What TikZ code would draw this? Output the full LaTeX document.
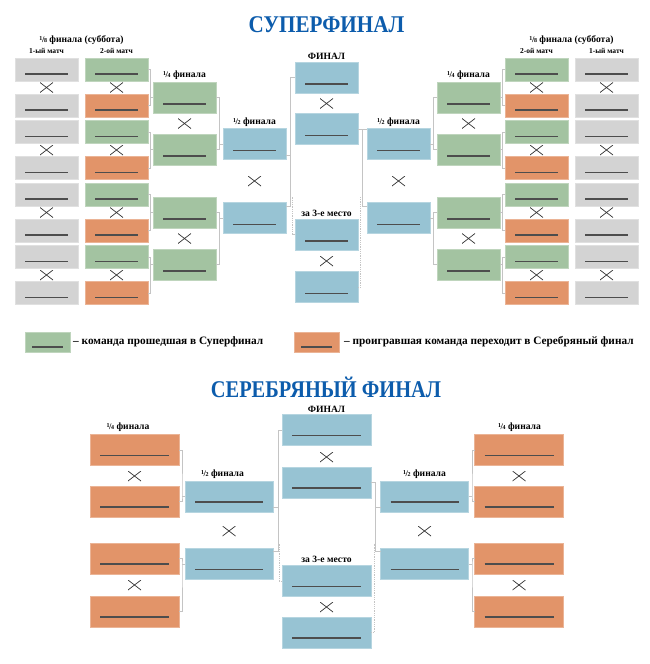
\documentclass[tikz,border=0pt]{standalone}
\usepackage{fontspec}
\setmainfont{Liberation Serif}
\usepackage{xcolor}
\usepackage{tikz}
\usetikzlibrary{positioning}

\definecolor{cGrey}{RGB}{211,211,211}
\definecolor{cGreen}{RGB}{163,195,161}
\definecolor{cOrange}{RGB}{226,148,105}
\definecolor{cBlue}{RGB}{151,195,211}
\definecolor{cLink}{RGB}{196,196,196}
\definecolor{cInk}{RGB}{77,77,77}
\definecolor{cTitle}{RGB}{12,92,172}

\newcommand\frc[2]{\raisebox{2pt}{\fontsize{6}{6}\selectfont#1}\kern-.4pt{\fontsize{8.5}{9}\selectfont/}\kern-.4pt\raisebox{-.4pt}{\fontsize{6}{6}\selectfont#2}}

\tikzset{
  team/.style={fill=#1,draw=#1!70!white,line width=.6pt,inner sep=0pt,outer sep=0pt},
  ink/.style={draw=cInk,line width=1.2pt},
  ul/.style 2 args={path picture={\draw[ink]
      ([shift={(#1,#2)}]path picture bounding box.south west) --
      ([shift={(-#1,#2)}]path picture bounding box.south east);}},
  sm/.style={minimum width=63pt,minimum height=23pt,ul={10pt}{7pt}},
  md/.style={minimum width=63pt,minimum height=31pt,ul={10pt}{9pt}},
  lg/.style={minimum width=89pt,minimum height=31pt,ul={10pt}{10pt}},
  key/.style={minimum width=45pt,minimum height=20pt,ul={7pt}{5pt}},
  vs/.style={minimum width=13pt,minimum height=10pt,inner sep=0pt,
    path picture={\draw[line width=.7pt,black!80]
      (path picture bounding box.south west) -- (path picture bounding box.north east)
      (path picture bounding box.north west) -- (path picture bounding box.south east);}},
  link/.style={draw=cLink,line width=.8pt},
  title/.style={font=\fontsize{24}{24}\selectfont\bfseries,text=cTitle,inner sep=0pt},
  lbl/.style={font=\fontsize{9.6}{10}\selectfont\bfseries,inner sep=0pt},
  sub/.style={font=\fontsize{7.5}{8}\selectfont\bfseries,inner sep=0pt},
  legend/.style={font=\fontsize{11.3}{12}\selectfont\bfseries,inner sep=0pt}
}

\begin{document}
\begin{tikzpicture}[x=1pt,y=-1pt]
  \useasboundingbox[fill=white] (0,0) rectangle (650,664);

  % superfinal
  \node[title] (tSup) at (326.5,25) {\scalebox{.88}[1]{СУПЕРФИНАЛ}};
  \node[lbl] (hL) at (81.5,40) {\frc18 финала (суббота)};
  \node[lbl] (hR) at (571.5,40) {\frc18 финала (суббота)};
  \node[sub] (mL1) at (46.5,51) {1-ый матч};
  \node[sub] (mL2) at (116.5,51) {2-ой матч};
  \node[sub] (mR2) at (536.5,51) {2-ой матч};
  \node[sub] (mR1) at (606.5,51) {1-ый матч};
  \node[lbl] (qhL) at (184.5,75) {\frc14 финала};
  \node[lbl] (qhR) at (468.5,75) {\frc14 финала};
  \node[lbl] (shL) at (254.5,122) {\frc12 финала};
  \node[lbl] (shR) at (398.5,122) {\frc12 финала};
  \node[lbl] (fh) at (326.5,56) {ФИНАЛ};
  \node[lbl] (th) at (326.5,213) {за 3-е место};

  \foreach \k in {0,...,3}{
    \pgfmathtruncatemacro\i{2*\k+1}
    \pgfmathtruncatemacro\j{2*\k+2}
    \pgfmathsetmacro\ya{69.5+62.5*\k}
    \pgfmathsetmacro\yb{\ya+36}
    \pgfmathsetmacro\yx{\ya+18}
    \node[team=cGrey,sm] (aL\i) at (46.5,\ya) {};
    \node[team=cGrey,sm] (aL\j) at (46.5,\yb) {};
    \node[team=cGreen,sm] (bL\i) at (116.5,\ya) {};
    \node[team=cOrange,sm] (bL\j) at (116.5,\yb) {};
    \node[team=cGreen,sm] (bR\i) at (536.5,\ya) {};
    \node[team=cOrange,sm] (bR\j) at (536.5,\yb) {};
    \node[team=cGrey,sm] (aR\i) at (606.5,\ya) {};
    \node[team=cGrey,sm] (aR\j) at (606.5,\yb) {};
    \node[vs] (xaL\k) at (46.5,\yx) {};
    \node[vs] (xbL\k) at (116.5,\yx) {};
    \node[vs] (xbR\k) at (536.5,\yx) {};
    \node[vs] (xaR\k) at (606.5,\yx) {};
  }
  \foreach \n/\y in {1/97.5,2/149.5,3/212.5,4/264.5}{
    \node[team=cGreen,md] (qL\n) at (184.5,\y) {};
    \node[team=cGreen,md] (qR\n) at (468.5,\y) {};
  }
  \node[vs] (xqL1) at (184.5,123.5) {};
  \node[vs] (xqL2) at (184.5,238.5) {};
  \node[vs] (xqR1) at (468.5,123.5) {};
  \node[vs] (xqR2) at (468.5,238.5) {};
  \node[team=cBlue,md] (sL1) at (254.5,144) {};
  \node[team=cBlue,md] (sL2) at (254.5,218) {};
  \node[team=cBlue,md] (sR1) at (398.5,144) {};
  \node[team=cBlue,md] (sR2) at (398.5,218) {};
  \node[vs] (xsL) at (254.5,181) {};
  \node[vs] (xsR) at (398.5,181) {};
  \node[team=cBlue,md] (f1) at (326.5,77.5) {};
  \node[team=cBlue,md] (f2) at (326.5,129) {};
  \node[vs] (xf) at (326.5,103.5) {};
  \node[team=cBlue,md] (t1) at (326.5,234.5) {};
  \node[team=cBlue,md] (t2) at (326.5,287) {};
  \node[vs] (xt) at (326.5,261) {};

  \foreach \n in {1,...,4}{
    \pgfmathtruncatemacro\i{2*\n-1}
    \pgfmathtruncatemacro\j{2*\n}
    \draw[link] (qL\n.west) -- ++(-2.5,0) coordinate (j) (bL\i.east) -| (j) |- (bL\j.east);
    \draw[link] (qR\n.east) -- ++(2.5,0) coordinate (j) (bR\i.west) -| (j) |- (bR\j.west);
  }
  \foreach \n/\a/\b in {1/1/2,2/3/4}{
    \draw[link] (sL\n.west) -- ++(-3.5,0) coordinate (j) (qL\a.east) -| (j) |- (qL\b.east);
    \draw[link] (sR\n.east) -- ++(3.5,0) coordinate (j) (qR\a.west) -| (j) |- (qR\b.west);
  }
  \draw[link] (f1.west) -- ++(-4.5,0) |- ([yshift=-4pt]sL2.north east);
  \draw[link] ([yshift=4pt]sL1.south east) -- ++(4.5,0);
  \draw[link,densely dotted] (t1.west) -- ++(-2.5,0) -- ++(0,-37.5);
  \draw[link] (f2.east) -- (f2.east -| sR1.west);
  \draw[link] (f2.east) -- ++(4,0) |- ([yshift=-4pt]sR2.north west);
  \draw[link,densely dotted] (t2.east) -- ++(2.5,0) -- ++(0,-90);

  % legend
  \node[team=cGreen,key] (kG) at (47.5,342) {};
  \node[legend,right=3pt of kG] (kGt) {– команда прошедшая в Суперфинал};
  \node[team=cOrange,key] (kO) at (316.5,342) {};
  \node[legend,right=5pt of kO] (kOt) {– проигравшая команда переходит в Серебряный финал};

  % silver final
  \node[title] (tSil) at (326,387) {\scalebox{.85}[1]{СЕРЕБРЯНЫЙ ФИНАЛ}};
  \node[lbl] (gqhL) at (128,427) {\frc14 финала};
  \node[lbl] (gqhR) at (519.5,427) {\frc14 финала};
  \node[lbl] (gshL) at (222.5,474) {\frc12 финала};
  \node[lbl] (gshR) at (424.5,474) {\frc12 финала};
  \node[lbl] (gfh) at (326.5,409) {ФИНАЛ};
  \node[lbl] (gth) at (326.5,559) {за 3-е место};

  \foreach \n/\y in {1/450,2/501.5,3/558.5,4/611.5}{
    \node[team=cOrange,lg] (gqL\n) at (134.5,\y) {};
    \node[team=cOrange,lg] (gqR\n) at (519,\y) {};
  }
  \node[vs] (xgqL1) at (134.5,476) {};
  \node[vs] (xgqL2) at (134.5,585) {};
  \node[vs] (xgqR1) at (519,476) {};
  \node[vs] (xgqR2) at (519,585) {};
  \node[team=cBlue,lg,minimum width=88pt] (gsL1) at (229,496.5) {};
  \node[team=cBlue,lg,minimum width=88pt] (gsL2) at (229,564) {};
  \node[team=cBlue,lg,minimum width=88pt] (gsR1) at (424.5,496.5) {};
  \node[team=cBlue,lg,minimum width=88pt] (gsR2) at (424.5,564) {};
  \node[vs] (xgsL) at (229,531) {};
  \node[vs] (xgsR) at (424.5,531) {};
  \node[team=cBlue,lg] (gf1) at (326.5,430) {};
  \node[team=cBlue,lg] (gf2) at (326.5,482.5) {};
  \node[vs] (xgf) at (326.5,457) {};
  \node[team=cBlue,lg] (gt1) at (326.5,581) {};
  \node[team=cBlue,lg] (gt2) at (326.5,632.5) {};
  \node[vs] (xgt) at (326.5,607) {};

  \foreach \n/\a/\b in {1/1/2,2/3/4}{
    \draw[link] (gsL\n.west) -- ++(-3,0) coordinate (j) (gqL\a.east) -| (j) |- (gqL\b.east);
    \draw[link] (gsR\n.east) -- ++(3.5,0) coordinate (j) (gqR\a.west) -| (j) |- (gqR\b.west);
  }
  \draw[link] (gf1.west) -- ++(-4,0) |- ([yshift=-3pt]gsL2.north east);
  \draw[link] ([yshift=5pt]gsL1.south east) -- ++(5,0);
  \draw[link,densely dotted] (gt1.west) -- ++(-3,0) -- ++(0,-38);
  \draw[link] (gf2.east) -- ++(4.5,0) |- ([yshift=-3pt]gsR2.north west);
  \draw[link] ([yshift=5pt]gsR1.south west) -- ++(-4.5,0);
  \draw[link,densely dotted] (gt2.east) -- ++(3,0) -- ++(0,-89);
\end{tikzpicture}
\end{document}
